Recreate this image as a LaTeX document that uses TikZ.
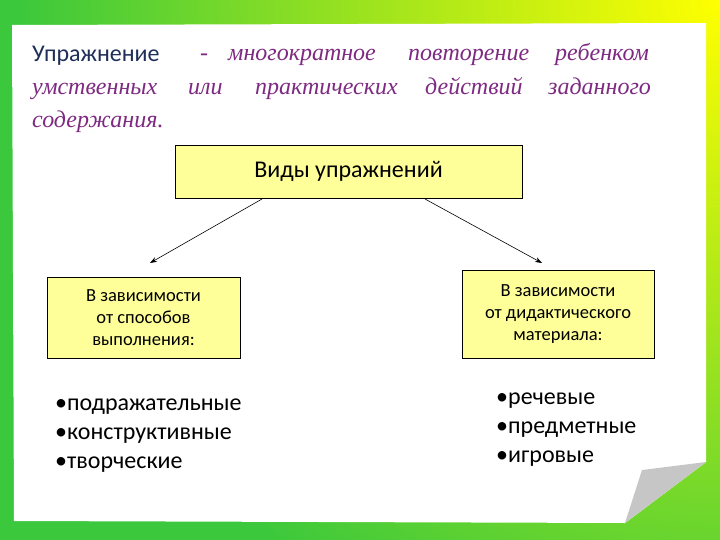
\documentclass[tikz,border=0pt]{standalone}
\usepackage{fontspec}
\setmainfont{Carlito}
\newfontfamily\scr{Liberation Serif}
\usetikzlibrary{arrows.meta}
\definecolor{grn}{HTML}{3CC83C}
\definecolor{ylw}{HTML}{FFFF00}
\definecolor{purp}{HTML}{7E2A82}
\definecolor{navy}{HTML}{1F2F5A}
\definecolor{boxy}{HTML}{FFFF99}
\tikzset{x=1pt,y=-1pt,
 wd/.style={anchor=base west,font=\scr\itshape\fontsize{24}{24}\selectfont,text=purp,inner sep=0},
 ybox/.style={draw=black,fill=boxy,line width=0.6pt,inner sep=0,align=center},
 lst/.style={anchor=north west,align=left,font=\fontsize{24}{29}\selectfont,inner sep=0},
 arr/.style={-{Stealth[length=7pt,width=5pt]},line width=0.6pt}}
\begin{document}
\begin{tikzpicture}
\useasboundingbox (0,0) rectangle (720,540);
\fill[grn] (0,0) rectangle (720,540);
\begin{scope}
\clip (0,0) rectangle (720,540);
\shade[inner color=ylw,outer color=grn] (720,0) circle (700);
\end{scope}
\fill[white] (12,25) -- (706,23) -- (706,462) -- (625,523) -- (14,521) -- cycle;
\fill[gray!45] (625,523) -- (642,470) -- (706,462) -- cycle;
\node[anchor=base west,inner sep=0,text=navy,font=\fontsize{24}{24}\selectfont] (t0) at (32,62) {Упражнение};
\node[wd] (t1) at (200,61) {-};
\node[wd] (t2) at (228,61) {многократное};
\node[wd] (t3) at (408,61) {повторение};
\node[wd] (t4) at (555,61) {ребенком};
\node[wd] (t5) at (32,95) {умственных};
\node[wd] (t6) at (188,95) {или};
\node[wd] (t7) at (255,95) {практических};
\node[wd] (t8) at (425,95) {действий};
\node[wd] (t9) at (548,95) {заданного};
\node[wd] (t10) at (32,128) {содержания.};
\node[ybox,minimum width=347,minimum height=53,font=\fontsize{24}{24}\selectfont] (top) at (348.5,171.5) {Виды упражнений};
\node[ybox,minimum width=193,minimum height=81,font=\fontsize{18.5}{22}\selectfont] (lb) at (143.5,317.5) {В зависимости\\от способов\\выполнения:};
\node[ybox,minimum width=192,minimum height=88,font=\fontsize{18.5}{22}\selectfont] (rb) at (558,314) {В зависимости\\от дидактического\\материала:};
\coordinate (ls) at (262,199);
\coordinate (le) at (150,263);
\coordinate (rs) at (425,199);
\coordinate (re) at (542,263);
\draw[arr] (ls) -- (le);
\draw[arr] (rs) -- (re);
\node[lst] (l1) at (55,399) {•подражательные\\•конструктивные\\•творческие};
\node[lst] (r1) at (496,393) {•речевые\\•предметные\\•игровые};
\end{tikzpicture}
\end{document}
